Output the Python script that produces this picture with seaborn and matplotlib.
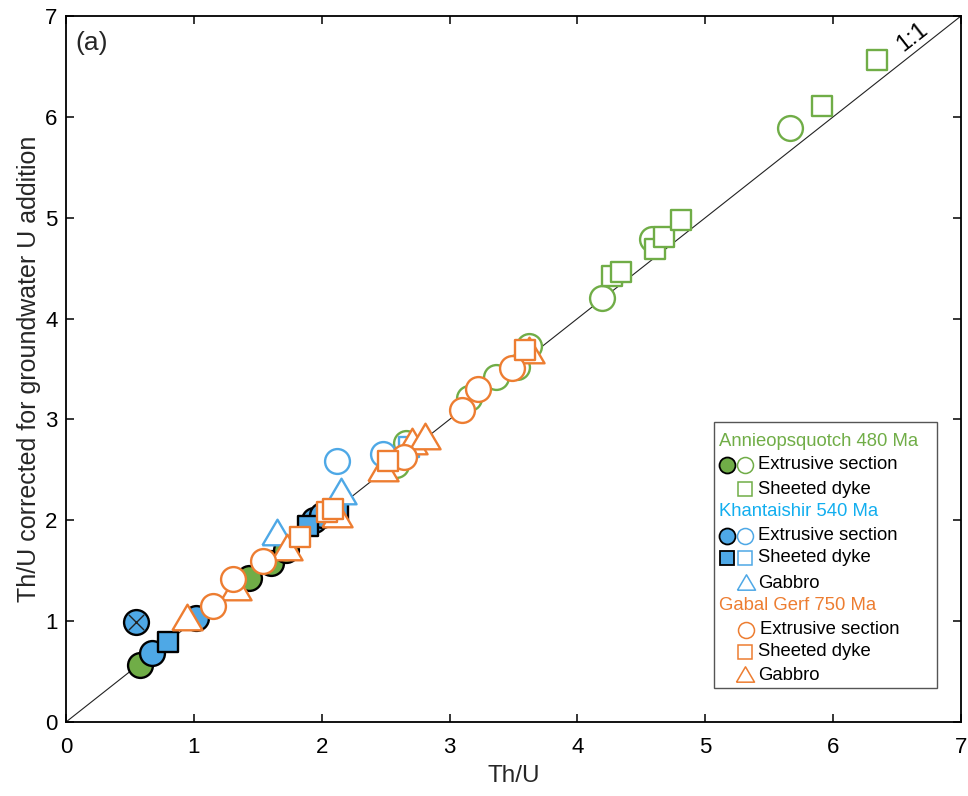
import numpy as np
import pandas as pd
import matplotlib
matplotlib.use("Agg")
import matplotlib.pyplot as plt
import seaborn as sns
from matplotlib.patches import Rectangle
from matplotlib.lines import Line2D

# ---------------- data (Th/U measured vs corrected) ----------------
# Annieopsquotch 480 Ma
ann_ext_filled_x = [0.58, 1.43, 1.60, 1.72]
ann_ext_filled_y = [0.57, 1.43, 1.58, 1.71]
ann_ext_open_x = [2.58, 2.66, 3.15, 3.36, 3.53, 3.62, 4.19, 4.58, 5.66]
ann_ext_open_y = [2.55, 2.77, 3.21, 3.42, 3.52, 3.73, 4.20, 4.79, 5.89]
ann_dyke_open_x = [4.27, 4.34, 4.61, 4.68, 4.81, 5.91, 6.34]
ann_dyke_open_y = [4.42, 4.46, 4.69, 4.81, 4.98, 6.11, 6.56]

# Khantaishir 540 Ma
kh_ext_cross_x = [0.55]
kh_ext_cross_y = [0.99]
kh_ext_filled_x = [0.67, 1.02, 1.94, 2.00]
kh_ext_filled_y = [0.68, 1.03, 2.00, 2.05]
kh_dyke_filled_x = [0.80, 1.89, 2.13]
kh_dyke_filled_y = [0.79, 1.94, 2.10]
kh_ext_open_x = [2.12, 2.48]
kh_ext_open_y = [2.59, 2.66]
kh_dyke_open_x = [2.68]
kh_dyke_open_y = [2.73]
kh_gab_open_x = [1.65, 2.15]
kh_gab_open_y = [1.88, 2.29]

# Gabal Gerf 750 Ma
gg_ext_x = [1.15, 1.31, 1.54, 2.64, 3.10, 3.22, 3.49]
gg_ext_y = [1.15, 1.42, 1.60, 2.63, 3.09, 3.30, 3.51]
gg_dyke_x = [1.83, 2.04, 2.09, 2.52, 3.59]
gg_dyke_y = [1.83, 2.08, 2.11, 2.59, 3.69]
gg_gab_x = [0.95, 1.33, 1.73, 2.12, 2.48, 2.71, 2.81, 3.62]
gg_gab_y = [1.04, 1.34, 1.74, 2.06, 2.52, 2.79, 2.84, 3.69]

xticks = [0, 1, 2, 3, 4, 5, 6, 7]
yticks = [0, 1, 2, 3, 4, 5, 6, 7]

GREEN = "#70AD47"
BLUE = "#4EA8E6"
BLUE_TXT = "#12AEEF"
ORANGE = "#ED7D31"

# MATLAB-like triangle: a bit wider than tall
TRI = [(-1.0, -0.85), (1.0, -0.85), (0.0, 0.85), (-1.0, -0.85)]

sns.set_theme(style="ticks")
plt.rcParams['font.family'] = ['Liberation Sans', 'DejaVu Sans']

W, H = 968, 796
fig = plt.figure(figsize=(W / 100, H / 100), dpi=100)
ax = fig.add_axes([66 / W, 1 - 722 / H, (961 - 66) / W, (722 - 16) / H])

# 1:1 line
ax.plot([0, 7], [0, 7], color="#222222", lw=0.8, zorder=1)

S_CIRC, S_SQ, S_TRI = 320, 205, 470
LW = 1.7


def draw(xs, ys, marker, s, face, edge, z):
    df = pd.DataFrame({"x": xs, "y": ys})
    sns.scatterplot(data=df, x="x", y="y", marker=marker, s=s, color=edge,
                    facecolor=face, edgecolor=edge, linewidth=LW, ax=ax,
                    zorder=z, legend=False)


# filled (solid) markers first
draw(ann_ext_filled_x, ann_ext_filled_y, "o", S_CIRC, GREEN, "black", 2)
draw(kh_ext_filled_x, kh_ext_filled_y, "o", S_CIRC, BLUE, "black", 3)
draw(kh_dyke_filled_x, kh_dyke_filled_y, "s", S_SQ, BLUE, "black", 3)
draw(kh_ext_cross_x, kh_ext_cross_y, "o", S_CIRC, BLUE, "black", 3)
sns.scatterplot(x=kh_ext_cross_x, y=kh_ext_cross_y, marker="x", s=120,
                color="#222222", linewidth=1.0, ax=ax, zorder=3.5, legend=False)
# open markers
draw(ann_ext_open_x, ann_ext_open_y, "o", S_CIRC, "white", GREEN, 4)
draw(ann_dyke_open_x, ann_dyke_open_y, "s", S_SQ, "white", GREEN, 5)
draw(kh_ext_open_x, kh_ext_open_y, "o", S_CIRC, "white", BLUE, 5)
draw(kh_gab_open_x, kh_gab_open_y, TRI, S_TRI, "white", BLUE, 5)
draw(kh_dyke_open_x, kh_dyke_open_y, "s", S_SQ, "white", BLUE, 5)
draw(gg_gab_x, gg_gab_y, TRI, S_TRI, "white", ORANGE, 6)
draw(gg_ext_x, gg_ext_y, "o", S_CIRC, "white", ORANGE, 7)
draw(gg_dyke_x, gg_dyke_y, "s", S_SQ, "white", ORANGE, 8)

ax.set_xlim(0, 7)
ax.set_ylim(0, 7)
ax.set_xticks(xticks)
ax.set_yticks(yticks)
ax.set_xticklabels([str(t) for t in xticks])
ax.set_yticklabels([str(t) for t in yticks])
ax.tick_params(direction="in", length=6, width=1.1, top=True, right=True,
               labelsize=16, colors="black")
ax.tick_params(axis="x", pad=11)
ax.tick_params(axis="y", pad=6)
for sp in ax.spines.values():
    sp.set_visible(True)
    sp.set_color("black")
    sp.set_linewidth(1.3)
ax.set_facecolor("white")
ax.set_xlabel("Th/U", fontsize=17.5, labelpad=5)
ax.set_ylabel("Th/U corrected for groundwater U addition", fontsize=18, labelpad=3)

ax.text(0.010, 0.962, "(a)", transform=ax.transAxes, fontsize=19,
        ha="left", va="center")
ax.text(6.62, 6.79, "1:1", fontsize=17, rotation=38, rotation_mode="anchor",
        ha="center", va="center", color="black")

# ---------------- custom legend (figure pixel coordinates) ----------------
def F(px, py):
    return px / W, 1 - py / H


x0, y0 = F(714, 688)
x1, y1 = F(937, 422)
fig.add_artist(Rectangle((x0, y0), x1 - x0, y1 - y0, transform=fig.transFigure,
                         facecolor="white", edgecolor="#555555", lw=1.0, zorder=10))

LFS = 13.3


def ltext(px, py, s, color="black"):
    fx, fy = F(px, py)
    fig.text(fx, fy, s, color=color, fontsize=LFS, ha="left", va="center", zorder=11)


def lmark(px, py, marker, face, edge, ms=11.5, lw=1.1):
    fx, fy = F(px, py)
    fig.add_artist(Line2D([fx], [fy], marker=marker, markersize=ms, markerfacecolor=face,
                          markeredgecolor=edge, markeredgewidth=lw, linestyle="none",
                          transform=fig.transFigure, zorder=11))


ltext(719, 441, "Annieopsquotch 480 Ma", GREEN)
lmark(727, 465, "o", GREEN, "black", lw=1.3)
lmark(745, 465, "o", "white", GREEN)
ltext(758, 465, "Extrusive section")
lmark(745, 489, "s", "white", GREEN, ms=10.5)
ltext(758, 489, "Sheeted dyke")
ltext(719, 512, "Khantaishir 540 Ma", BLUE_TXT)
lmark(727, 536, "o", BLUE, "black", lw=1.3)
lmark(745, 536, "o", "white", BLUE)
ltext(758, 536, "Extrusive section")
lmark(727, 558, "s", BLUE, "black", ms=10.5, lw=1.3)
lmark(745, 558, "s", "white", BLUE, ms=10.5)
ltext(758, 558, "Sheeted dyke")
lmark(746, 582, TRI, "white", BLUE, ms=13)
ltext(758, 583, "Gabbro")
ltext(719, 606, "Gabal Gerf 750 Ma", ORANGE)
lmark(746, 630, "o", "white", ORANGE)
ltext(760, 630, "Extrusive section")
lmark(745, 652, "s", "white", ORANGE, ms=10.5)
ltext(758, 652, "Sheeted dyke")
lmark(745, 674, TRI, "white", ORANGE, ms=13)
ltext(758, 675, "Gabbro")

fig.savefig("out.png", dpi=100, facecolor="white")
